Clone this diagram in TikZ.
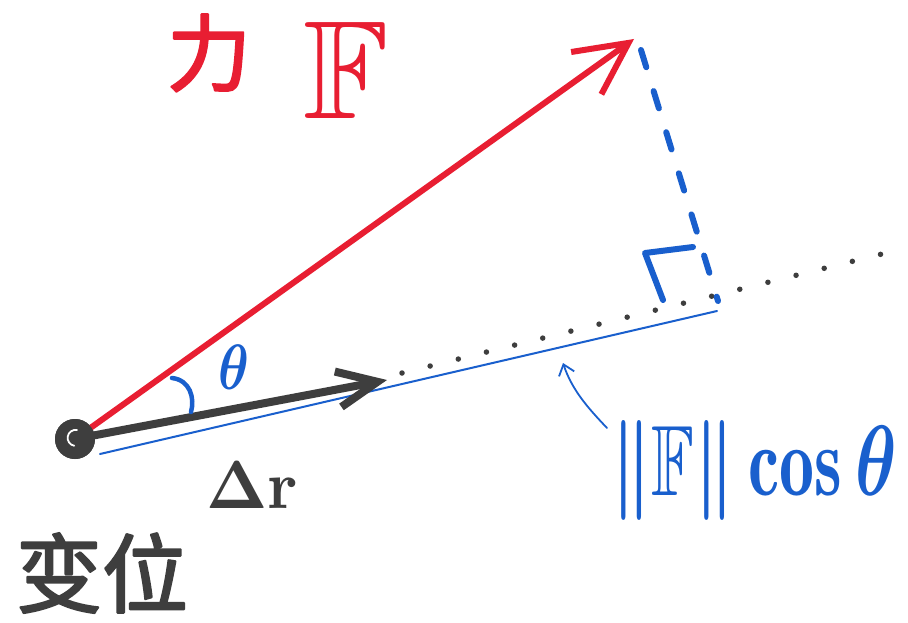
\documentclass[tikz,border=0pt]{standalone}
\usepackage{fix-cm}
\usepackage{amsmath}
\usepackage{amssymb}
\usepackage{fontspec}
\newfontfamily\cjk[FakeBold=2.5]{Noto Sans CJK SC}
\usetikzlibrary{arrows.meta,calc}
\definecolor{penred}{RGB}{232,30,50}
\definecolor{penblue}{RGB}{25,95,205}
\definecolor{pendark}{RGB}{62,62,62}
\begin{document}
\begin{tikzpicture}[x=1pt,y=-1pt,line cap=round,line join=round,
  forcearrow/.style={penred,line width=6pt,-{Straight Barb[length=52pt,width=52pt]}},
  disparrow/.style={pendark,line width=8pt,-{Straight Barb[length=40pt,width=36pt]}},
  projline/.style={penblue,line width=2pt},
  dotline/.style={pendark,line width=5.5pt,dash pattern=on 0pt off 29pt},
  perpline/.style={penblue,line width=6pt,dash pattern=on 18pt off 25pt},
  pointer/.style={penblue,line width=1.8pt,-{Straight Barb[length=10pt,width=16pt]}},
  redlabel/.style={penred,inner sep=0pt},
  bluelabel/.style={penblue,inner sep=0pt},
  darklabel/.style={pendark,inner sep=0pt}]
\useasboundingbox (0,0) rectangle (908,623);
\fill[white] (0,0) rectangle (908,623);
% key points
\coordinate (O) at (75,439);
\coordinate (Ftip) at (634,39);
\coordinate (Rtip) at (387,380);
\coordinate (dashA) at (641,50);
\coordinate (foot) at (718,301);
\coordinate (dotA) at (402,373);
\coordinate (dotB) at (890,252);
\coordinate (uA) at (100,454);
\coordinate (uB) at (717,311);
\coordinate (ptrS) at (607,428);
\coordinate (ptrE) at (563,363);
\coordinate (ra1) at (663,300);
\coordinate (ra2) at (645,253);
\coordinate (ra3) at (693,247);
\coordinate (thA) at (172,378);
\coordinate (thB) at (191,412);
% origin blob
\node[circle,fill=pendark,minimum size=40pt,inner sep=0pt] (Odot) at (O) {};
% lines
\draw[projline] (uA) -- (uB);
\draw[dotline] (dotA) -- (dotB);
\draw[perpline] (dashA) -- (foot);
\draw[penblue,line width=6pt] (ra1) -- (ra2) -- (ra3);
\draw[forcearrow] (Odot) -- (Ftip);
\draw[disparrow] (Odot) -- (Rtip);
\node[circle,fill=pendark,minimum size=40pt,inner sep=0pt] (Odot2) at (O) {};
\draw[white,line width=1.8pt] ($(O)+(2,-9)$) arc[start angle=80,end angle=260,radius=8pt];
\draw[pointer] (ptrS) .. controls (588,408) and (572,390) .. (ptrE);
\draw[penblue,line width=4.5pt] (thA) .. controls (190,380) and (195,398) .. (thB);
% labels
\node[redlabel] (li) at (209,53) {\cjk\fontsize{84}{84}\selectfont 力};
\node[redlabel] (fF) at (346,70) {\fontsize{140}{140}\selectfont$\mathbb{F}$};
\node[bluelabel] (theta) at (234,367) {\scalebox{5.2}[6.4]{\boldmath$\theta$}};
\node[darklabel] (dr) at (252,485) {\scalebox{6.4}[6.8]{\boldmath$\Delta\mathbf{r}$}};
\node[darklabel] (bianwei) at (102,573) {\cjk\fontsize{86}{86}\selectfont 变位};
\node[bluelabel] (proj) at (754,470) {\scalebox{7}[10]{\boldmath$\|\mathbb{F}\|\cos\theta$}};
\end{tikzpicture}
\end{document}
